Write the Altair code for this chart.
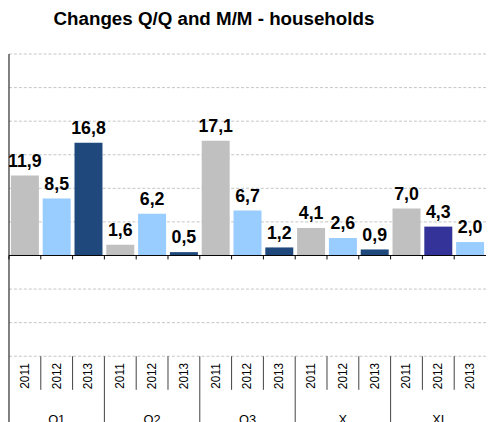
import altair as alt
import pandas as pd

groups = ["Q1", "Q2", "Q3", "X", "XI"]
years = ["2011", "2012", "2013"]
values = [11.9, 8.5, 16.8, 1.6, 6.2, 0.5, 17.1, 6.7, 1.2, 4.1, 2.6, 0.9, 7.0, 4.3, 2.0]
title_text = "Changes Q/Q and M/M - households"
y_ticks = [-15, -10, -5, 0, 5, 10, 15, 20, 25, 30]

rows = []
keys = []
for gi, g in enumerate(groups):
    for yi, yr in enumerate(years):
        k = f"{g} {yr}"
        keys.append(k)
        rows.append({"key": k, "group": g, "year": yr, "value": values[gi * 3 + yi],
                     "kind": "group" if yi == 0 else "year", "mid": yi == 1,
                     "first": gi == 0 and yi == 0})
df = pd.DataFrame(rows)
grid_df = pd.DataFrame({"v": [t for t in y_ticks if t != 0]})

W, H = 483, 306
FONT = "Liberation Sans"

xs = alt.Scale(domain=keys, paddingInner=0, paddingOuter=0)
ys = alt.Scale(domain=[-15, 30], nice=False, zero=False)
XK = alt.X("key:N", scale=xs, axis=None, sort=keys)
XB = alt.X("key:N", scale=xs, sort=keys, bandPosition=0, axis=None)

base = alt.Chart(df)

grid = alt.Chart(grid_df).mark_rule(color="#C4C4C4", strokeDash=[3, 2], strokeWidth=1).encode(
    y=alt.Y("v:Q", scale=ys, axis=None),
    x=alt.value(0), x2=alt.value(W),
)

bars = base.transform_calculate(
    tone="datum.key == 'XI 2012' ? 'XI2012' : (datum.key == 'XI 2013' ? '2012' : datum.year)"
).mark_bar(width=alt.RelativeBandSize(band=0.88)).encode(
    x=XK,
    y=alt.Y("value:Q", scale=ys, axis=None),
    y2=alt.datum(0),
    color=alt.Color("tone:N", scale=alt.Scale(domain=["2011", "2012", "2013", "XI2012"],
                                              range=["#C0C0C0", "#99CCFF", "#1F497D", "#333399"]),
                    legend=None),
)

labels = base.transform_calculate(
    lab="replace(format(datum.value, '.1f'), '.', ',')"
).mark_text(font=FONT, fontSize=18, fontWeight="bold", baseline="alphabetic", dy=-9, color="black").encode(
    x=XK,
    y=alt.Y("value:Q", scale=ys, axis=None),
    text="lab:N",
)

zero_line = alt.Chart(pd.DataFrame({"v": [0]})).mark_rule(color="black").encode(
    y=alt.Y("v:Q", scale=ys, axis=None), x=alt.value(0), x2=alt.value(W)
)

zero_ticks = base.mark_rule(color="black").encode(
    x=XB,
    y=alt.value(H * 30 / 45),
    y2=alt.value(H * 30 / 45 + 4),
)

y_axis_line = base.transform_filter("datum.first").mark_rule(color="black").encode(
    x=XB, y=alt.value(0), y2=alt.value(H + 80),
)

year_sep = base.transform_filter("datum.kind == 'year'").mark_rule(color="#404040").encode(
    x=XB, y=alt.value(H), y2=alt.value(H + 34),
)

group_sep = base.transform_filter("datum.kind == 'group' && !datum.first").mark_rule(color="#404040").encode(
    x=XB, y=alt.value(H), y2=alt.value(H + 80),
)

year_labels = base.mark_text(font=FONT, fontSize=12, angle=270, align="center", baseline="middle", color="black").encode(
    x=XK,
    y=alt.value(H + 20),
    text="year:N",
)

group_labels = base.transform_filter("datum.mid").mark_text(font=FONT, fontSize=13, align="center", baseline="top", color="black").encode(
    x=XK,
    y=alt.value(H + 59),
    text="group:N",
)

chart = alt.layer(
    grid, bars, zero_line, zero_ticks, year_sep, group_sep, y_axis_line, labels, year_labels, group_labels
).properties(
    width=W,
    height=H,
    title=alt.TitleParams(text=title_text, anchor="start", dx=46, fontSize=19, font=FONT,
                          fontWeight="bold", baseline="alphabetic", offset=10, color="black"),
    autosize=alt.AutoSizeParams(type="none"),
    padding={"left": 1, "top": 44, "right": 0, "bottom": 64},
).configure_view(stroke=None)

chart.save("out.html", embed_options={"renderer": "svg", "actions": False})
